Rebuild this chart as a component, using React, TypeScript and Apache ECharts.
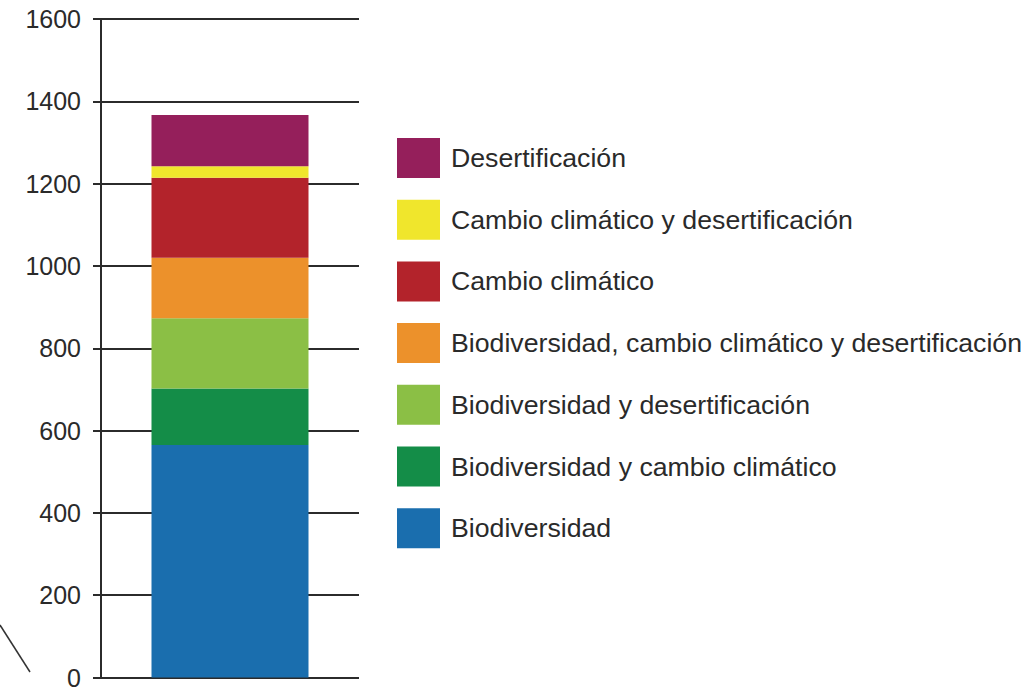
import React, { useEffect, useRef } from "react";
import * as echarts from "echarts";

const categories = ["Total"];
const seriesNames = [
  "Biodiversidad",
  "Biodiversidad y cambio climático",
  "Biodiversidad y desertificación",
  "Biodiversidad, cambio climático y desertificación",
  "Cambio climático",
  "Cambio climático y desertificación",
  "Desertificación",
];
const seriesValues = [565, 137, 171, 147, 194, 28, 125];
const seriesColors = ["#1a6eae", "#148d48", "#8bbf45", "#ec912b", "#b3232b", "#f0e62c", "#951f5b"];
const legendOrder = [...seriesNames].reverse();

export default function App() {
  const ref = useRef<HTMLDivElement>(null);
  useEffect(() => {
    const chart = echarts.init(ref.current!, null, { renderer: "svg" });
    const font = "'Liberation Sans', Arial, Helvetica, sans-serif";
    chart.setOption({
      animation: false,
      backgroundColor: "#ffffff",
      grid: { left: 101, right: 677, top: 19, bottom: 11 },
      xAxis: {
        type: "category",
        data: categories,
        show: false,
      },
      yAxis: {
        type: "value",
        min: 0,
        max: 1600,
        interval: 200,
        axisLine: { show: true, lineStyle: { color: "#2b2b2b", width: 2 } },
        axisTick: { show: true, length: 8, lineStyle: { color: "#2b2b2b", width: 2 } },
        splitLine: { show: true, lineStyle: { color: "#2b2b2b", width: 2 } },
        axisLabel: {
          fontSize: 25,
          color: "#2a2a2a",
          fontFamily: font,
          margin: 20,
          formatter: (v: number) => String(v),
        },
      },
      legend: {
        orient: "vertical",
        left: 397,
        top: 138,
        padding: 0,
        itemWidth: 43,
        itemHeight: 40,
        itemGap: 21.7,
        icon: "rect",
        data: legendOrder,
        selectedMode: false,
        textStyle: { fontSize: 26.7, color: "#2a2a2a", fontFamily: font, padding: [0, 0, 0, 6] },
      },
      series: seriesNames.map((name, i) => ({
        name,
        type: "bar",
        stack: "total",
        barWidth: 157,
        data: [seriesValues[i]],
        itemStyle: { color: seriesColors[i] },
      })),
      graphic: [
        {
          type: "line",
          shape: { x1: 0, y1: 625, x2: 30, y2: 672 },
          style: { stroke: "#333", lineWidth: 1.5 },
        },
      ],
    });
    return () => chart.dispose();
  }, []);
  return (
    <div
      ref={ref}
      style={{ position: "fixed", left: 0, top: 0, width: 1036, height: 690 }}
    />
  );
}
